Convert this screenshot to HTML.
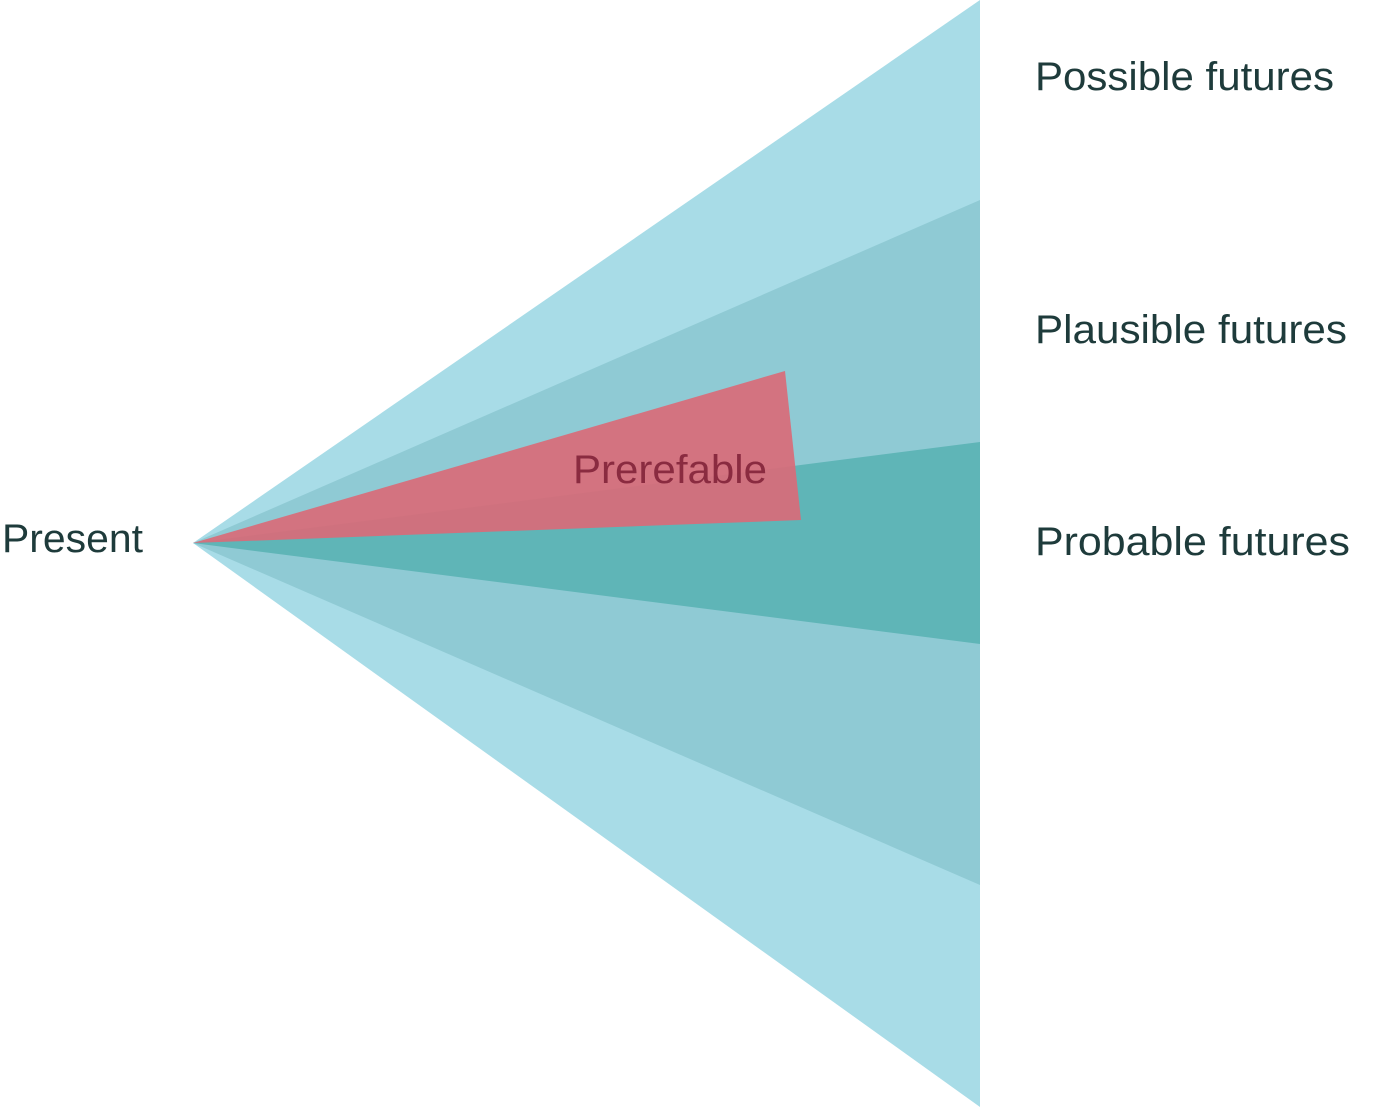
<!DOCTYPE html>
<html><head><meta charset="utf-8"><style>
html,body{margin:0;padding:0;background:#fff;width:1400px;height:1107px;overflow:hidden}
svg{display:block}
text{font-family:"Liberation Sans",sans-serif}
</style></head><body>
<svg width="1400" height="1107" viewBox="0 0 1400 1107">
<polygon points="193,543 980,0 980,1107" fill="#a8dce7"/>
<polygon points="193,543 980,200 980,885" fill="#8fcad4"/>
<polygon points="193,543 980,442 980,644" fill="#5fb5b7"/>
<polygon points="193,543 785,371 801,520" fill="#d96b78" fill-opacity="0.92"/>
<text x="573" y="483" font-size="40" fill="#8a2b40" textLength="194" lengthAdjust="spacingAndGlyphs">Prerefable</text>
<text x="2" y="552" font-size="40" fill="#1e3b3b" textLength="141" lengthAdjust="spacingAndGlyphs">Present</text>
<text x="1035" y="90" font-size="40" fill="#1e3b3b" textLength="299" lengthAdjust="spacingAndGlyphs">Possible futures</text>
<text x="1035" y="343" font-size="40" fill="#1e3b3b" textLength="312" lengthAdjust="spacingAndGlyphs">Plausible futures</text>
<text x="1035" y="555" font-size="40" fill="#1e3b3b" textLength="315" lengthAdjust="spacingAndGlyphs">Probable futures</text>
</svg>
</body></html>
